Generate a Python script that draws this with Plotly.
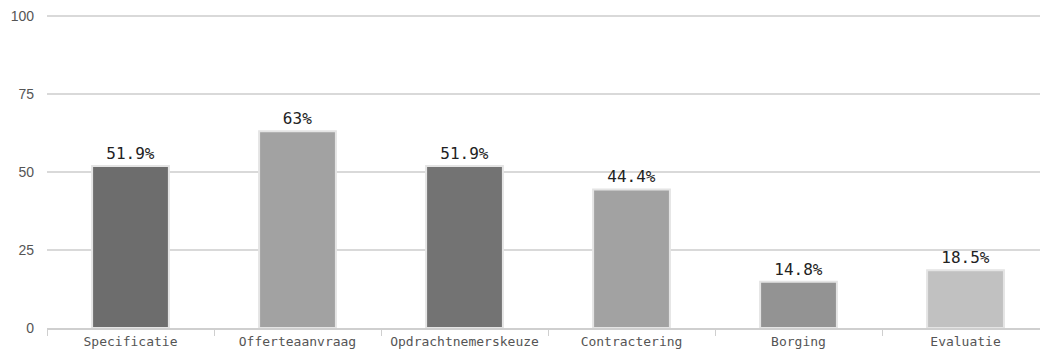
import plotly.graph_objects as go

# Fases en percentages
categories = ["Specificatie", "Offerteaanvraag", "Opdrachtnemerskeuze",
              "Contractering", "Borging", "Evaluatie"]
values = [51.9, 63, 51.9, 44.4, 14.8, 18.5]
bar_colors = ["#6d6d6d", "#a2a2a2", "#737373", "#a2a2a2", "#939393", "#c1c1c1"]
y_ticks = [0, 25, 50, 75, 100]

mono = "DejaVu Sans Mono"

fig = go.Figure(
    go.Bar(
        x=categories,
        y=values,
        width=0.46,
        marker=dict(color=bar_colors, line=dict(color="#e4e4e4", width=2)),
        texttemplate="%{y}%",
        textposition="outside",
        textfont=dict(family=mono, size=16, color="#222222"),
        cliponaxis=False,
        hoverinfo="skip",
    )
)

fig.update_layout(
    width=1040,
    height=356,
    margin=dict(l=47, r=0, t=14, b=28),
    paper_bgcolor="white",
    plot_bgcolor="white",
    showlegend=False,
    xaxis=dict(
        range=[-0.5, 5.446],
        showgrid=False,
        showline=True,
        linecolor="#cfcfcf",
        linewidth=2,
        ticks="outside",
        tickson="boundaries",
        ticklen=6,
        tickcolor="#cfcfcf",
        tickfont=dict(family=mono, size=13, color="#555555"),
        fixedrange=True,
    ),
    yaxis=dict(
        range=[0, 100.6],
        tickvals=y_ticks,
        showgrid=True,
        gridcolor="#d9d9d9",
        gridwidth=2,
        zeroline=False,
        showline=False,
        ticks="",
        ticklabelstandoff=12,
        tickfont=dict(family="Liberation Sans", size=14, color="#555555"),
        fixedrange=True,
    ),
)

fig.write_html("out.html")
